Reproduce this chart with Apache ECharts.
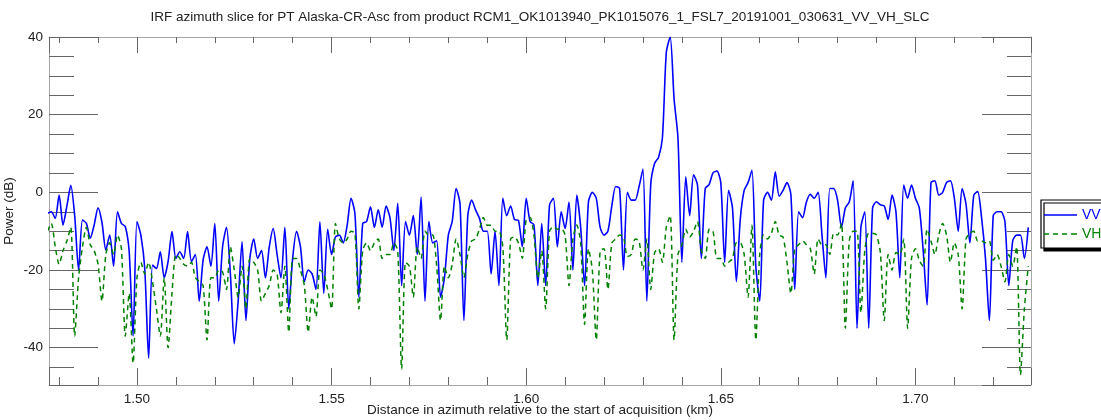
<!DOCTYPE html>
<html>
<head>
    <meta charset="utf-8">
    <title>IRF azimuth slice</title>
    <style>
        * { margin: 0; padding: 0; }
        body { background: #fff; }
        #main { width: 1101px; height: 420px; }
    </style>
    <script src="https://cdn.jsdelivr.net/npm/echarts@6/dist/echarts.min.js"></script>
</head>
<body>
<div id="main"></div>
<script>
    const titleText = 'IRF azimuth slice for PT Alaska-CR-Asc from product RCM1_OK1013940_PK1015076_1_FSL7_20191001_030631_VV_VH_SLC';
    const xName = 'Distance in azimuth relative to the start of acquisition (km)';
    const yName = 'Power (dB)';
    const seriesNames = ['VV', 'VH'];

    // samples are 1 m apart in azimuth, first one at 1.477 km
    const sampleStartKm = 1.477;
    const sampleStepKm = 0.001;

    // power in dB
    const vvPower = [
        -5.4, -5.0, -6.7, -0.7, -8.4, -3.5, 1.8, -6, -20, -7.1,
        -8.0, -11.8, -8.4, -4, -7.7, -14.8, -11, -19, -5, -8,
        -8.8, -15.3, -37, -7.5, -11, -19.6, -42.7, -18.7, -19.6, -15.3,
        -22, -17.8, -10.1, -17, -15.3, -17, -10.1, -17.8, -16, -28,
        -17.4, -14,
        -19, -8, -28, -14, -9, -21, -39, -28, -12.7, -33,
        -17, -12, -17, -15, -22, -14, -9.3, -16, -22, -9,
        -30, -17, -10, -14, -23, -20, -21, -25, -7.6, -26,
        -9.5, -16, -11.5, -11, -13, -8.5, -1.5, -5.5, -27, -8,
        -7.5,
        -3.7, -9, -4.5, -9, -3.5, -6.5, -15, -2.8, -24, -7.5,
        -11, -6, -16, -1.2, -28, -7.5, -13, -12.5, -27, -22,
        -11, -7.5, 1, -3, -33, -6, -2, -4.5, -6.7, -10,
        -10, -21, -10, -24, -1.5, -6, -3.5, -7, -7.2, -14,
        -1.5,
        -7.5, -8.4, -24, -8, -24, -3.3, -1.5, -14, -5, -9.3,
        -2.5, -20, -0.7, -9, -24, -2.4, 0, -1.5, -9, -11,
        -10, -3.5, 1.5, 1, -20, 0, -2, -2, 1.5, 6,
        -28, 2, 7.5, 9, 14, 36, 40, 24, 14, -18,
        4, -6, 4.5, 2, -17, 1, 2, 5, 5.5, 2.5,
        -18, 0.5, -4, -23, -7, 0.5, 2.5, 5.7, -19, -28,
        -2, 0, -2, 5.3, -1, 0.5, 2.5, -0.5, -25, -5,
        -6.5, -2.5, -0.5, -1.5, 0, -11, -22, 1, 1, -2,
        -9, -4, -2.5,
        3, -35, -9, -5, -35, -4, -2.4, -3.2, -3.5, -7,
        -0.7, -5, -22, 1.9, -1.5, 1.9, -1.5, -4, -15, -29,
        2.5, 3, -0.7, 0, 2.5, 3, -1.5, -10, 1, -3,
        -13, -0.7, 0.2, -6.5, -17, -33, -6, -5, -5, -7.5,
        -24, -12.5, -11, -11, -17, -9
    ];

    const vhPower = [
        -10, -8, -14, -18.5, -15, -12.5, -9, -37, -22, -14,
        -9, -13.5, -15, -18.5, -28, -16, -13, -16, -11, -14.5,
        -37, -26, -44, -22, -18, -21, -18, -23, -30, -37,
        -22, -40, -26, -16, -17, -18.5, -19, -18, -22, -23,
        -24, -38,
        -22, -22, -20, -20.5, -25, -14, -20, -27, -19, -30,
        -17, -18, -20, -28, -26, -24, -20, -21, -31, -19,
        -36, -17, -17, -20, -24, -36, -27, -32, -20, -21,
        -25, -30, -8, -12, -13, -12, -10, -10.5, -30, -15,
        -13,
        -15, -13, -12, -17, -16, -16, -13, -15, -45.5, -18,
        -19, -27, -14, -17, -10, -11, -11, -19, -33, -19,
        -22, -18.5, -12, -16, -22, -16, -12.5, -12, -9.5, -6.5,
        -8.5, -8.5, -10, -10, -14, -38, -12, -11.5, -13, -17,
        -7,
        -6.5, -11, -22, -15, -30, -10, -8.8, -9.5, -9.3, -11,
        -24, -12, -8.4, -13, -34, -14.5, -20, -38, -15, -14.5,
        -25, -13, -12, -11, -11.5, -16.5, -16, -12, -12.5, -20,
        -12, -25, -15.5, -14.5, -18, -9, -6, -38, -16, -13.5,
        -9.5, -11.5, -10, -7.5, -15, -17, -9.5, -10, -17, -17,
        -19, -18, -17, -13, -13, -16, -27, -8.5, -38, -16,
        -11, -12, -10.5, -7.5, -11, -11.5, -18, -26, -14.5, -13.5,
        -12.5, -13.5, -14.5, -21, -12, -13.5, -13.5, -16, -10.5, -11,
        -8, -35, -12.5,
        -10, -10, -31, -15, -10.5, -10.5, -11, -15.5, -33, -16,
        -20, -15.5, -16, -12, -35, -17, -14.5, -17.5, -19, -9.5,
        -12.5, -16, -11, -8, -11, -18, -13, -16, -30, -12,
        -10.5, -10, -12.5, -12.5, -13, -12.5, -17.5, -16, -19, -23,
        -16, -19, -14, -47, -30, -19
    ];

    const xRange = [1.4774, 1.7297];
    const yRange = [-49.6, 40];

    const fontFamily = '"Liberation Sans", Arial, Helvetica, sans-serif';
    const frameColor = '#a6a6a6';
    const tickColor = '#666';
    const textColor = '#222';
    const vvColor = '#0000ff';
    const vhColor = '#008000';

    // legend keys: solid bar and dashed bar, drawn as filled paths
    const vvIcon = 'path://M0,0h33v1.6h-33z';
    const vhIcon = 'path://M0,0h5v1.6h-5zM9,0h5v1.6h-5zM18,0h5v1.6h-5zM27,0h6v1.6h-6z';

    const distanceKm = vvPower.map((_, i) => +(sampleStartKm + i * sampleStepKm).toFixed(3));
    const vvData = vvPower.map((v, i) => [distanceKm[i], v]);
    const vhData = vhPower.map((v, i) => [distanceKm[i], v]);

    function xAxisOpt(pos, majorLen, minorLen, labels) {
        return {
            type: 'value',
            position: pos,
            min: xRange[0],
            max: xRange[1],
            minInterval: 0.05,
            maxInterval: 0.05,
            axisLine: { show: true, onZero: false, lineStyle: { color: frameColor, width: 1 } },
            axisTick: { show: true, inside: true, length: majorLen, lineStyle: { color: tickColor, width: 1 } },
            minorTick: { show: true, splitNumber: 5, length: minorLen, lineStyle: { color: tickColor, width: 1 } },
            splitLine: { show: false },
            axisLabel: {
                show: labels,
                margin: 7,
                showMinLabel: false,
                showMaxLabel: false,
                fontSize: 13.5,
                fontFamily: fontFamily,
                color: textColor,
                formatter: v => v.toFixed(2)
            }
        };
    }

    function yAxisOpt(pos, majorLen, minorLen, labels) {
        return {
            type: 'value',
            position: pos,
            min: yRange[0],
            max: yRange[1],
            minInterval: 20,
            maxInterval: 20,
            axisLine: { show: true, onZero: false, lineStyle: { color: frameColor, width: 1 } },
            axisTick: { show: true, inside: true, length: majorLen, lineStyle: { color: tickColor, width: 1 } },
            minorTick: { show: true, splitNumber: 4, length: minorLen, lineStyle: { color: tickColor, width: 1 } },
            splitLine: { show: false },
            axisLabel: {
                show: labels,
                margin: 6,
                showMinLabel: false,
                fontSize: 13.5,
                fontFamily: fontFamily,
                color: textColor
            }
        };
    }

    const bottomAxis = xAxisOpt('bottom', 17, 8, true);
    bottomAxis.name = xName;
    bottomAxis.nameLocation = 'middle';
    bottomAxis.nameGap = 18;
    bottomAxis.nameMoveOverlap = false;
    bottomAxis.nameTextStyle = { fontSize: 13.5, fontFamily: fontFamily, color: textColor };

    const leftAxis = yAxisOpt('left', 49, 25, true);
    leftAxis.name = yName;
    leftAxis.nameLocation = 'middle';
    leftAxis.nameGap = 33;
    leftAxis.nameMoveOverlap = false;
    leftAxis.nameTextStyle = { fontSize: 13.5, fontFamily: fontFamily, color: textColor };

    const chart = echarts.init(document.getElementById('main'), null, { renderer: 'canvas' });

    const option = {
        animation: false,
        backgroundColor: '#fff',
        title: {
            text: titleText,
            left: 540,
            top: 10,
            textAlign: 'center',
            padding: 0,
            textStyle: { fontSize: 13.5, fontWeight: 'normal', fontFamily: fontFamily, color: textColor }
        },
        legend: {
            orient: 'vertical',
            left: 1041,
            top: 200,
            padding: [8, 40, 7, 3],
            itemGap: 5,
            itemWidth: 33,
            itemHeight: 2,
            backgroundColor: '#fff',
            borderColor: '#000',
            borderWidth: 1.2,
            borderRadius: 0,
            shadowColor: '#000',
            shadowBlur: 0,
            shadowOffsetX: 3,
            shadowOffsetY: 3,
            textStyle: { fontSize: 14, fontFamily: fontFamily, lineHeight: 14 },
            data: [
                { name: seriesNames[0], icon: vvIcon, itemStyle: { color: vvColor }, textStyle: { color: vvColor } },
                { name: seriesNames[1], icon: vhIcon, itemStyle: { color: vhColor }, textStyle: { color: vhColor } }
            ]
        },
        grid: { left: 49, right: 70, top: 37, bottom: 35, containLabel: false, outerBoundsMode: 'none' },
        xAxis: [bottomAxis, xAxisOpt('top', 16, 6, false)],
        yAxis: [leftAxis, yAxisOpt('right', 49, 24, false)],
        series: [
            {
                name: seriesNames[0],
                type: 'line',
                xAxisIndex: 0,
                yAxisIndex: 0,
                data: vvData,
                symbol: 'none',
                showSymbol: false,
                smooth: 0.25,
                lineStyle: { color: vvColor, width: 1.6 },
                itemStyle: { color: vvColor }
            },
            {
                name: seriesNames[1],
                type: 'line',
                xAxisIndex: 0,
                yAxisIndex: 0,
                data: vhData,
                symbol: 'none',
                showSymbol: false,
                smooth: 0.25,
                lineStyle: { color: vhColor, width: 1.5, type: [5, 4] },
                itemStyle: { color: vhColor }
            }
        ]
    };

    chart.setOption(option);
</script>
</body>
</html>
